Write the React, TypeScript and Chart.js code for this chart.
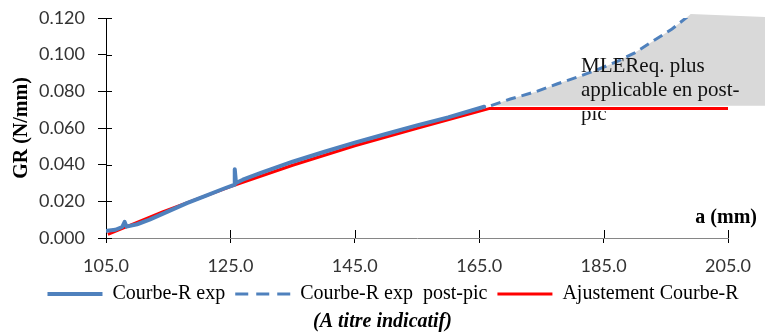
import { useEffect, useRef } from 'react';
import { Chart, registerables } from 'chart.js';

Chart.register(...registerables);

// ---- data ----
const expX = [105.2, 106.5, 107.6, 108.0, 108.3, 110, 112, 115, 118, 121, 124, 125.6, 125.7, 125.9, 127, 128.5, 130, 135, 140, 145, 150, 155, 160, 165.8];
const expY = [0.0040, 0.0045, 0.0060, 0.0088, 0.0062, 0.0075, 0.0100, 0.0145, 0.0190, 0.0230, 0.0270, 0.0290, 0.0375, 0.0300, 0.0318, 0.0338, 0.0357, 0.0416, 0.0469, 0.0520, 0.0567, 0.0614, 0.0658, 0.0716];

const postX = [166.9, 170, 174, 177.5, 181, 184, 187, 190, 193, 196, 198.6];
const postY = [0.0722, 0.0758, 0.0797, 0.0840, 0.0880, 0.0918, 0.0960, 0.1010, 0.1075, 0.1140, 0.1210];

const fitX = [105.3, 114, 125, 135, 145, 155, 166.7, 205];
const fitY = [0.0020, 0.0141, 0.0280, 0.0397, 0.0503, 0.0598, 0.0707, 0.0707];

// shaded "not applicable" zone: dashed curve, then these corners
const shadeExtraX = [199.0, 211.0, 211.0];
const shadeExtraY = [0.1222, 0.1206, 0.0721];

const xMin = 105, xMax = 205, xStep = 20;
const yMin = 0, yMax = 0.12, yStep = 0.02;

const seriesLabels = ['Courbe-R exp', 'Courbe-R exp  post-pic', 'Ajustement Courbe-R'];
const yTitle = 'GR (N/mm)';
const xTitle = 'a (mm)';
const noteLines = ['MLEReq. plus', 'applicable en post-', 'pic'];
const subtitle = '(A titre indicatif)';

const BLUE = '#4F81BD';
const RED = '#FF0000';
const GRAY = '#D9D9D9';
const SERIF = '"Liberation Serif", "Times New Roman", serif';
const SANS = 'Lato, "Liberation Sans", sans-serif';

const toPts = (xs: number[], ys: number[]) => xs.map((x, i) => ({ x, y: ys[i] }));

const shadePlugin = {
  id: 'shade',
  beforeDatasetsDraw(chart: any) {
    const { ctx, scales, chartArea } = chart;
    const sx = scales.x, sy = scales.y;
    const xs = postX.concat(shadeExtraX);
    const ys = postY.concat(shadeExtraY);
    ctx.save();
    ctx.beginPath();
    xs.forEach((v, i) => {
      const px = sx.getPixelForValue(v);
      const py = sy.getPixelForValue(ys[i]);
      if (i === 0) ctx.moveTo(px, py); else ctx.lineTo(px, py);
    });
    ctx.closePath();
    ctx.fillStyle = GRAY;
    ctx.fill();
    ctx.restore();

    // inner halves of the crossing tick marks
    ctx.save();
    ctx.lineWidth = 1;
    ctx.strokeStyle = '#000';
    sx.ticks.forEach((_t: any, i: number) => {
      const px = Math.round(sx.getPixelForTick(i)) + 0.5;
      ctx.beginPath();
      ctx.moveTo(px, chartArea.bottom);
      ctx.lineTo(px, chartArea.bottom - 8);
      ctx.stroke();
    });
    sy.ticks.forEach((_t: any, i: number) => {
      const py = Math.round(sy.getPixelForTick(i)) + 0.5;
      ctx.beginPath();
      ctx.moveTo(chartArea.left, py);
      ctx.lineTo(chartArea.left + 6, py);
      ctx.stroke();
    });
    ctx.restore();
  },
  afterDraw(chart: any) {
    const { ctx, chartArea, width } = chart;
    ctx.save();
    ctx.fillStyle = '#111';
    ctx.textBaseline = 'alphabetic';
    ctx.textAlign = 'left';
    ctx.font = `21px ${SERIF}`;
    const nx = chartArea.right - 147;
    ctx.fillText(noteLines[0], nx, chartArea.top + 54);
    ctx.fillText(noteLines[1], nx, chartArea.top + 78);
    ctx.save();
    ctx.beginPath();
    ctx.rect(nx - 5, chartArea.top + 93, 100, 40);
    ctx.clip();
    ctx.fillText(noteLines[2], nx, chartArea.top + 102);
    ctx.restore();

    ctx.font = `bold 20px ${SERIF}`;
    ctx.textAlign = 'right';
    ctx.fillStyle = '#000';
    ctx.fillText(xTitle, chartArea.right + 29, chartArea.bottom - 15);

    ctx.font = `italic bold 20px ${SERIF}`;
    ctx.textAlign = 'center';
    ctx.textBaseline = 'middle';
    ctx.fillText(subtitle, width / 2, 322);
    ctx.restore();
  },
};

export default function App() {
  const ref = useRef<HTMLCanvasElement | null>(null);
  useEffect(() => {
    if (!ref.current) return;
    const chart = new Chart(ref.current, {
      type: 'line',
      data: {
        datasets: [
          {
            label: seriesLabels[0],
            data: toPts(expX, expY),
            borderColor: BLUE,
            backgroundColor: BLUE,
            borderWidth: 4,
            pointRadius: 0,
            borderJoinStyle: 'round',
            borderCapStyle: 'round',
            fill: false,
          },
          {
            label: seriesLabels[1],
            data: toPts(postX, postY),
            borderColor: BLUE,
            backgroundColor: BLUE,
            borderWidth: 3,
            borderDash: [10, 6],
            pointRadius: 0,
            fill: false,
          },
          {
            label: seriesLabels[2],
            data: toPts(fitX, fitY),
            borderColor: RED,
            backgroundColor: RED,
            borderWidth: 3,
            pointRadius: 0,
            fill: false,
          },
        ],
      },
      options: {
        animation: false,
        responsive: false,
        devicePixelRatio: 1,
        layout: { padding: { left: 21, right: 0, top: 18, bottom: 22 } },
        scales: {
          x: {
            type: 'linear',
            min: xMin,
            max: xMax,
            afterFit: (s: any) => { s.height = 36; },
            ticks: {
              stepSize: xStep,
              autoSkip: false,
              maxRotation: 0,
              padding: 12,
              color: '#333',
              font: { family: SANS, size: 18 },
              callback: (v: any) => Number(v).toFixed(1),
            },
            grid: { display: true, drawOnChartArea: false, drawTicks: true, tickLength: 5, tickColor: '#000' },
            border: { display: true, color: '#868686', width: 1 },
          },
          y: {
            type: 'linear',
            position: 'left',
            min: yMin,
            max: yMax,
            afterFit: (s: any) => { s.width = 85; s.paddingTop = 0; s.paddingBottom = 0; },
            ticks: {
              stepSize: yStep,
              padding: 13,
              color: '#333',
              font: { family: SANS, size: 18 },
              callback: (v: any) => Number(v).toFixed(3),
            },
            grid: { display: true, drawOnChartArea: false, drawTicks: true, tickLength: 8, tickColor: '#000' },
            border: { display: true, color: '#000', width: 1 },
            title: {
              display: true,
              text: yTitle,
              color: '#000',
              font: { family: SERIF, size: 20, weight: 'bold' },
              padding: { top: -11, bottom: 0 },
            },
          },
          yR: {
            type: 'linear',
            position: 'right',
            display: true,
            afterFit: (s: any) => { s.width = 37; s.paddingTop = 0; s.paddingBottom = 0; },
            ticks: { display: false },
            grid: { display: false },
            border: { display: false },
          },
        },
        plugins: {
          legend: {
            display: true,
            position: 'bottom',
            labels: {
              usePointStyle: true,
              pointStyleWidth: 55,
              padding: 10,
              color: '#000',
              font: { family: SERIF, size: 20 },
              generateLabels: (c: any) =>
                c.data.datasets.map((ds: any, i: number) => ({
                  text: ds.label,
                  fillStyle: ds.borderColor,
                  strokeStyle: ds.borderColor,
                  lineWidth: i === 0 ? 4 : 3,
                  lineDash: i === 1 ? [13, 8] : [],
                  pointStyle: 'line',
                  hidden: false,
                  datasetIndex: i,
                  fontColor: '#000',
                })),
            },
          },
          title: { display: false },
          tooltip: { enabled: false },
        },
      },
      plugins: [shadePlugin],
    } as any);
    return () => chart.destroy();
  }, []);
  return (
    <div style={{ position: 'fixed', left: 0, top: 0, width: 765, height: 336, background: '#fff' }}>
      <canvas ref={ref} width={765} height={336} style={{ display: 'block' }} />
    </div>
  );
}
